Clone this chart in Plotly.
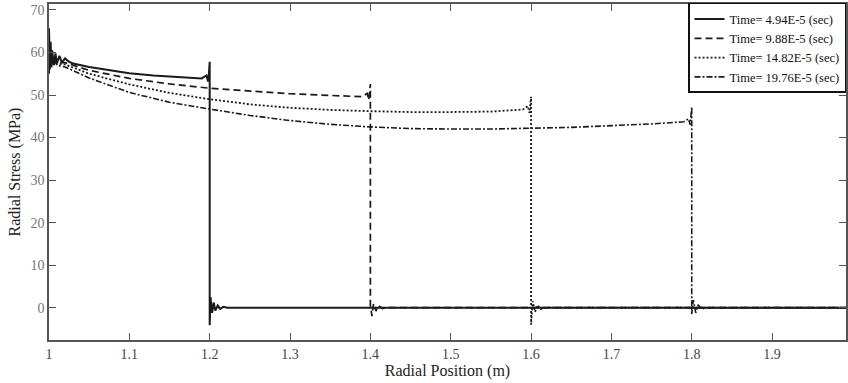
import plotly.graph_objects as go

# ---- data ----
names = ["Time= 4.94E-5 (sec)", "Time= 9.88E-5 (sec)",
         "Time= 14.82E-5 (sec)", "Time= 19.76E-5 (sec)"]

x1 = [1.0, 1.0, 1.001, 1.002, 1.003, 1.004, 1.006, 1.008, 1.01, 1.013, 1.016, 1.02, 1.025,
      1.03, 1.05, 1.08, 1.1, 1.13, 1.16, 1.19, 1.196, 1.198, 1.199, 1.2, 1.2,
      1.201, 1.203, 1.205, 1.207, 1.21, 1.213, 1.217, 1.222, 1.3, 2.0]
y1 = [55.0, 65.7, 56.0, 62.5, 56.5, 60.5, 57.0, 59.8, 57.5, 59.2, 57.6, 58.6, 57.8,
      57.4, 56.6, 55.6, 55.1, 54.6, 54.2, 53.9, 54.6, 53.2, 55.0, 57.8, -4.1,
      2.5, -1.2, 1.2, -0.7, 0.5, -0.3, 0.2, 0.0, 0.0, 0.0]

x2 = [1.0, 1.003, 1.006, 1.01, 1.02, 1.05, 1.1, 1.15, 1.2, 1.25, 1.3, 1.35, 1.39,
      1.396, 1.398, 1.4, 1.4, 1.402, 1.404, 1.407, 1.41, 1.415, 1.42, 2.0]
y2 = [59.0, 57.5, 58.8, 57.6, 57.6, 55.8, 53.9, 52.6, 51.6, 50.9, 50.3, 49.9, 49.6,
      50.4, 48.8, 52.6, 0.5, -2.0, 1.0, -0.8, 0.5, -0.2, 0.0, 0.0]

x3 = [1.0, 1.003, 1.006, 1.01, 1.02, 1.05, 1.1, 1.15, 1.2, 1.25, 1.3, 1.35, 1.4, 1.45,
      1.5, 1.55, 1.59, 1.596, 1.598, 1.6, 1.6, 1.602, 1.605, 1.608, 1.612, 1.62, 2.0]
y3 = [58.8, 57.4, 58.5, 57.4, 57.2, 55.0, 52.5, 50.5, 49.0, 47.8, 47.0, 46.5, 46.2, 46.0,
      46.0, 46.1, 46.6, 47.4, 45.8, 49.6, -4.0, 1.5, -1.0, 0.6, -0.3, 0.0, 0.0]

x4 = [1.0, 1.003, 1.006, 1.01, 1.02, 1.05, 1.1, 1.15, 1.2, 1.25, 1.3, 1.35, 1.4, 1.45,
      1.5, 1.55, 1.6, 1.65, 1.7, 1.75, 1.79, 1.796, 1.798, 1.8, 1.8, 1.802, 1.805,
      1.808, 1.812, 1.82, 2.0]
y4 = [58.6, 57.2, 58.3, 57.0, 56.6, 54.0, 50.6, 48.3, 46.7, 45.2, 44.0, 43.1, 42.5, 42.1,
      42.0, 42.0, 42.2, 42.4, 42.8, 43.2, 43.7, 44.4, 43.0, 47.2, -1.5, 1.8, -1.2,
      0.7, -0.3, 0.0, 0.0]

xs = [x1, x2, x3, x4]
ys = [y1, y2, y3, y4]

x_ticks = [1, 1.1, 1.2, 1.3, 1.4, 1.5, 1.6, 1.7, 1.8, 1.9, 2]
y_ticks = [0, 10, 20, 30, 40, 50, 60, 70]

# ---- styles ----
dashes = ["solid", "7px,4px", "2px,2px", "6px,2px,2px,2px"]
widths = [2.0, 1.7, 1.8, 1.6]
color = "#1a1a1a"

fig = go.Figure()
for xv, yv, nm, ds, w in zip(xs, ys, names, dashes, widths):
    fig.add_trace(go.Scatter(x=xv, y=yv, mode="lines", name=nm,
                             line=dict(color=color, width=w, dash=ds)))

font_family = "Liberation Serif"
fig.update_layout(
    width=848, height=383, autosize=False,
    margin=dict(l=49, r=0, t=4, b=43),
    plot_bgcolor="white", paper_bgcolor="white",
    font=dict(family=font_family, size=14, color="#333"),
    showlegend=True,
    legend=dict(x=1, xanchor="right", y=1.003, yanchor="top",
                bgcolor="white", bordercolor="#111", borderwidth=1.5,
                font=dict(family=font_family, size=12.5, color="#111"),
                tracegroupgap=0, itemwidth=30),
)
fig.update_xaxes(
    range=[1, 1.992], tickvals=x_ticks, ticktext=[str(t) for t in x_ticks],
    ticks="inside", ticklen=7, tickwidth=1, tickcolor="#555",
    showline=True, linecolor="#555", linewidth=1.5, mirror="ticks",
    showgrid=False, zeroline=False,
    tickfont=dict(family=font_family, size=14, color="#444"),
    title=dict(text="Radial Position (m)", standoff=2,
               font=dict(family=font_family, size=16, color="#222")),
)
fig.update_yaxes(
    range=[-7.6, 71.4], tickvals=y_ticks,
    ticks="inside", ticklen=7, tickwidth=1, tickcolor="#555",
    showline=True, linecolor="#555", linewidth=1.5, mirror="ticks",
    showgrid=False, zeroline=False,
    tickfont=dict(family=font_family, size=14, color="#777"),
    title=dict(text="Radial Stress (MPa)", standoff=6,
               font=dict(family=font_family, size=16, color="#222")),
)

fig.write_html("out.html")
